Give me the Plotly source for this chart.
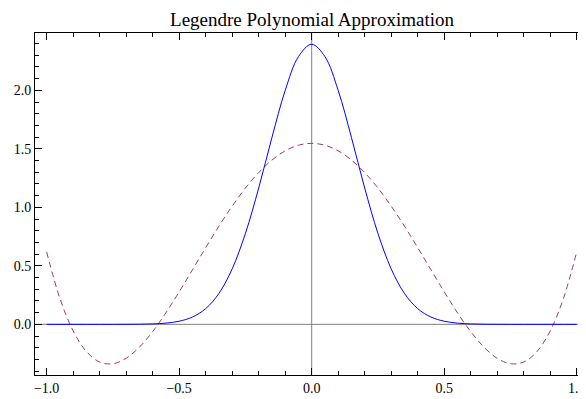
import plotly.graph_objects as go

x_vals = [-1.0, -0.95, -0.9, -0.85, -0.8, -0.75, -0.7, -0.65, -0.6, -0.55, -0.5,
          -0.45, -0.4, -0.35, -0.3, -0.25, -0.2, -0.15, -0.1, -0.05, 0.0,
          0.05, 0.1, 0.15, 0.2, 0.25, 0.3, 0.35, 0.4, 0.45, 0.5,
          0.55, 0.6, 0.65, 0.7, 0.75, 0.8, 0.85, 0.9, 0.95, 1.0]

gauss_vals = [0.0, 0.0, 0.0, 0.0, 0.0, 0.0001, 0.0004, 0.0012, 0.0037, 0.0103, 0.0266,
              0.0625, 0.134, 0.264, 0.474, 0.777, 1.165, 1.597, 1.999, 2.288, 2.394,
              2.288, 1.999, 1.597, 1.165, 0.777, 0.474, 0.264, 0.134, 0.0625, 0.0266,
              0.0103, 0.0037, 0.0012, 0.0004, 0.0001, 0.0, 0.0, 0.0, 0.0, 0.0]

legendre_vals = [0.619, 0.222, -0.056, -0.233, -0.322, -0.337, -0.290, -0.195, -0.062, 0.099, 0.278,
                 0.466, 0.655, 0.839, 1.010, 1.165, 1.297, 1.404, 1.483, 1.531, 1.547,
                 1.531, 1.483, 1.404, 1.297, 1.165, 1.010, 0.839, 0.655, 0.466, 0.278,
                 0.099, -0.062, -0.195, -0.290, -0.337, -0.322, -0.233, -0.056, 0.222, 0.619]

x_ticks = [-1.0, -0.5, 0.0, 0.5, 1.0]
y_ticks = [0.0, 0.5, 1.0, 1.5, 2.0]

title_text = "Legendre Polynomial Approximation"

fig = go.Figure()
fig.add_trace(go.Scatter(x=x_vals, y=legendre_vals, mode="lines",
                         line=dict(color="#993D71", width=1, dash="6px,4px", shape="spline"),
                         showlegend=False))
fig.add_trace(go.Scatter(x=x_vals, y=gauss_vals, mode="lines",
                         line=dict(color="#0000FF", width=1, shape="spline"),
                         showlegend=False))

font = dict(family="Liberation Serif", size=14, color="black")

# the page adds an 8px body margin, so the figure is 8px smaller each way
fig.update_layout(
    width=578, height=391,
    margin=dict(l=27, r=0, t=25, b=24, autoexpand=False),
    paper_bgcolor="white", plot_bgcolor="white",
    font=font,
    title=dict(text=title_text, x=0.526, xanchor="center", y=0.972, yanchor="middle",
               font=dict(family="Liberation Serif", size=19, color="black")),
)
fig.update_xaxes(
    range=[-1.044, 1.035], tickvals=x_ticks, tickformat=".1f", automargin=False,
    ticks="inside", ticklen=7, tickcolor="black", tickwidth=1,
    minor=dict(ticks="inside", dtick=0.1, tick0=0, ticklen=4, tickcolor="black"),
    showline=True, linecolor="black", linewidth=1, mirror="allticks",
    showgrid=False, zeroline=False,
)
fig.update_yaxes(
    range=[-0.433, 2.49], tickvals=y_ticks, tickformat=".1f", automargin=False,
    ticks="inside", ticklen=7, tickcolor="black", tickwidth=1,
    minor=dict(ticks="inside", dtick=0.1, tick0=0, ticklen=4, tickcolor="black"),
    showline=True, linecolor="black", linewidth=1, mirror="allticks",
    showgrid=False, zeroline=False,
)
# gray axes through the origin
fig.add_hline(y=0, line=dict(color="#808080", width=1), layer="below")
fig.add_vline(x=0, line=dict(color="#808080", width=1), layer="below")

fig.write_html("out.html")
